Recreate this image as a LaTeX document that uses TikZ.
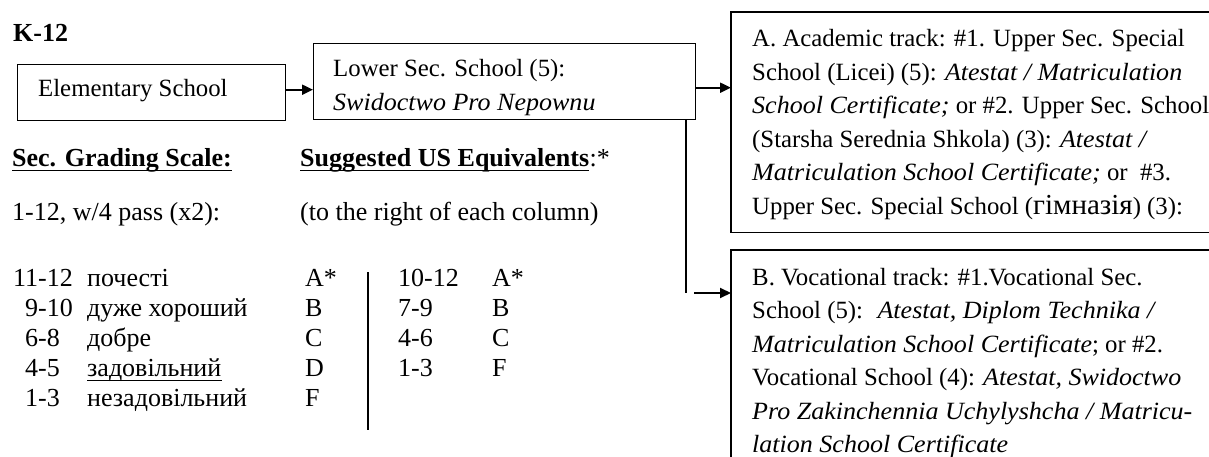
\documentclass[tikz,border=0pt]{standalone}
\usepackage{fontspec}
\setmainfont{Liberation Serif}[ItalicFeatures={FakeStretch=1.05}]
\usetikzlibrary{arrows.meta}
\newcommand\bxfont{\fontsize{24.8}{33.5}\selectfont}
\newcommand\grfont{\fontsize{26}{30}\selectfont}
\begin{document}
\begin{tikzpicture}[x=1pt,y=-1pt,
  box/.style={draw, line width=1.4pt, rectangle, inner sep=0pt, anchor=north west},
  openbox/.style={rectangle, inner sep=0pt, anchor=north west},
  edge/.style={line width=1.4pt},
  btxt/.style={anchor=base west, inner sep=0pt, font=\bxfont},
  gtxt/.style={anchor=base west, inner sep=0pt, font=\grfont},
  arr/.style={line width=2pt, -{Triangle[length=11pt,width=10pt]}},
  thin/.style={line width=1.3pt},
  uline/.style={line width=1.8pt}]
\useasboundingbox (0,0) rectangle (1209,457);
\fill[white] (0,0) rectangle (1209,457);

% boxes
\node[box, minimum width=268pt, minimum height=56pt] (elem) at (17,64) {};
\node[box, minimum width=382pt, minimum height=76pt] (lower) at (313,43) {};
\node[openbox, minimum width=478pt, minimum height=220pt] (boxA) at (731,12) {};
\node[openbox, minimum width=478pt, minimum height=207pt] (boxB) at (731,250) {};
\draw[edge] (boxA.north east) -- (boxA.north west) -- (boxA.south west) -- (boxA.south east);
\draw[edge] (boxB.north east) -- (boxB.north west) -- (boxB.south west);

% texts in boxes
\node[gtxt, font=\grfont\bfseries] (k12) at (13,42) {K-12};
\node[btxt] (elemtxt) at (38,97) {Elementary School};
\node[btxt] (low1) at (333,77) {Lower Sec. School (5):};
\begin{scope}
\clip (313,43) rectangle (695,117.5);
\node[btxt] (low2) at (333,111) {\itshape Swidoctwo Pro Nepownu};
\end{scope}

\node[btxt] (a1) at (752,47) {A. Academic track: \#1. Upper Sec. Special};
\node[btxt] (a2) at (752,80.5) {School (Licei) (5): \textit{Atestat / Matriculation}};
\node[btxt] (a3) at (752,114) {\textit{School Certificate;} or \#2. Upper Sec. School};
\node[btxt] (a4) at (752,147.5) {(Starsha Serednia Shkola) (3): \textit{Atestat /}};
\node[btxt] (a5) at (752,181) {\textit{Matriculation School Certificate;} or \ \#3.};
\node[btxt] (a6) at (752,214.5) {Upper Sec. Special School ({\fontsize{29}{33.5}\selectfont гімназія}) (3):};

\begin{scope}
\clip (731,250) rectangle (1209,457);
\node[btxt] (b1) at (752,285) {B. Vocational track: \#1.Vocational Sec.};
\node[btxt] (b2) at (752,318.5) {School (5): \ \textit{Atestat, Diplom Technika /}};
\node[btxt] (b3) at (752,352) {\textit{Matriculation School Certificate}; or \#2.};
\node[btxt] (b4) at (752,385.5) {Vocational School (4): \textit{Atestat, Swidoctwo}};
\node[btxt] (b5) at (752,419) {\textit{Pro Zakinchennia Uchylyshcha / Matricu-}};
\node[btxt] (b6) at (752,452.5) {\textit{lation School Certificate}};
\end{scope}

% connectors
\draw[arr] ([yshift=3pt]elem.east) -- ([yshift=3pt]elem.east -| lower.west);
\draw[arr] ([yshift=-6pt]lower.east) -- ([yshift=-6pt]lower.east -| boxA.west);
\coordinate (bend) at (686,293);
\coordinate (bstart) at (694,293);
\draw[thin] (lower.south -| bend) -- (bend);
\draw[arr] (bstart) -- (bstart -| boxB.west);

% grading scale
\node[gtxt, font=\grfont\bfseries] (h1) at (12,167) {Sec. Grading Scale:};
\draw[uline] ([yshift=-3.5pt]h1.base west) -- ([yshift=-3.5pt]h1.base east);
\node[gtxt, font=\grfont\bfseries] (h2) at (300,167) {Suggested US Equivalents};
\draw[uline] ([yshift=-3.5pt]h2.base west) -- ([yshift=-3.5pt]h2.base east);
\node[gtxt] (h2s) at (h2.base east) {:*};
\node[gtxt] (p1) at (12,220) {1-12, w/4 pass (x2):};
\node[gtxt] (p2) at (300,220) {(to the right of each column)};

\node[gtxt] (n1) at (13,286) {11-12};
\node[gtxt] (n2) at (25,316) {9-10};
\node[gtxt] (n3) at (25,346) {6-8};
\node[gtxt] (n4) at (25,376) {4-5};
\node[gtxt] (n5) at (25,406) {1-3};
\node[gtxt] (w1) at (87,286) {почесті};
\node[gtxt] (w2) at (87,316) {дуже хороший};
\node[gtxt] (w3) at (87,346) {добре};
\node[gtxt] (w4) at (87,376) {задовільний};
\draw[line width=1pt] ([yshift=-4pt]w4.base west) -- ([yshift=-4pt]w4.base east);
\node[gtxt] (w5) at (87,406) {незадовільний};
\node[gtxt] (l1) at (305,286) {A*};
\node[gtxt] (l2) at (305,316) {B};
\node[gtxt] (l3) at (305,346) {C};
\node[gtxt] (l4) at (305,376) {D};
\node[gtxt] (l5) at (305,406) {F};
\coordinate (d1) at (368,272);
\coordinate (d2) at (368,430);
\draw[thin] (d1) -- (d2);
\node[gtxt] (m1) at (398,286) {10-12};
\node[gtxt] (m2) at (398,316) {7-9};
\node[gtxt] (m3) at (398,346) {4-6};
\node[gtxt] (m4) at (398,376) {1-3};
\node[gtxt] (r1) at (492,286) {A*};
\node[gtxt] (r2) at (492,316) {B};
\node[gtxt] (r3) at (492,346) {C};
\node[gtxt] (r4) at (492,376) {F};
\end{tikzpicture}
\end{document}
